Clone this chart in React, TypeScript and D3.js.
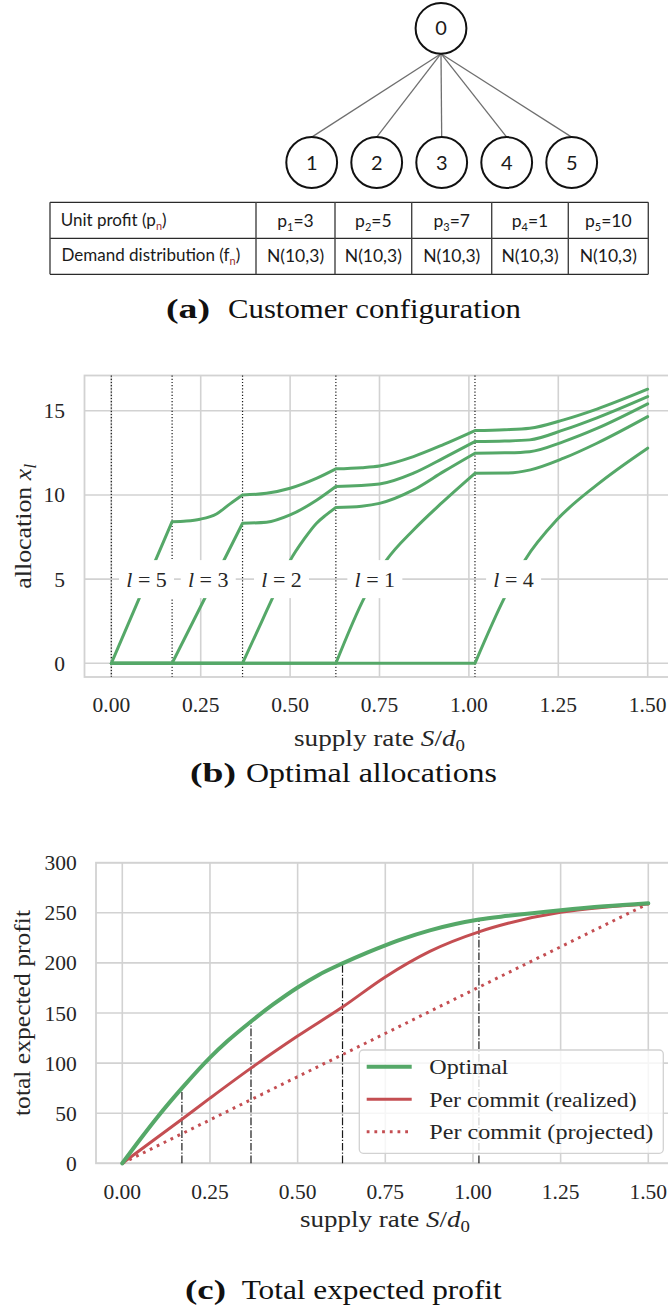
import React from 'react';
import * as d3 from 'd3';

type Pt = [number, number];

// ---------- (a) customer configuration ----------
const customerIds = [1, 2, 3, 4, 5];
const unitProfits = [3, 5, 7, 1, 10];
const demandDists = ['N(10,3)', 'N(10,3)', 'N(10,3)', 'N(10,3)', 'N(10,3)'];

// ---------- (b) optimal allocations ----------
// supply rates at which the next customer starts receiving stock
const activationS = [0, 0.17, 0.367, 0.628, 1.017];
const allocationLabels = ['5', '3', '2', '1', '4'];
const labelS = [0.0985, 0.271, 0.476, 0.737, 1.125];
const labelLevel = 5;

const alloc5: Pt[] = [
  [0, 0], [0.17, 8.41],
  [0.21, 8.45], [0.248, 8.56], [0.294, 8.87], [0.332, 9.47], [0.367, 10.0],
  [0.434, 10.1], [0.5, 10.4], [0.575, 11.0], [0.628, 11.55],
  [0.7, 11.62], [0.75, 11.72], [0.845, 12.28], [0.93, 13.0], [1.017, 13.82],
  [1.1, 13.87], [1.17, 13.96], [1.265, 14.46], [1.358, 15.1], [1.5, 16.28],
];
const alloc3: Pt[] = [
  [0, 0], [0.17, 0],
  [0.367, 8.32],
  [0.434, 8.38], [0.5, 8.81], [0.575, 9.7], [0.628, 10.5],
  [0.75, 10.65], [0.845, 11.29], [0.93, 12.2], [1.017, 13.17],
  [1.1, 13.2], [1.17, 13.27], [1.265, 13.86], [1.358, 14.58], [1.5, 15.84],
];
const alloc2: Pt[] = [
  [0, 0], [0.367, 0],
  [0.42, 2.45], [0.46, 4.3], [0.5, 6.1], [0.54, 7.4], [0.574, 8.32], [0.6, 8.8], [0.628, 9.25],
  [0.7, 9.33], [0.75, 9.5], [0.845, 10.3], [0.93, 11.4], [1.017, 12.48],
  [1.1, 12.5], [1.17, 12.57], [1.265, 13.17], [1.358, 13.95], [1.5, 15.41],
];
const alloc1: Pt[] = [
  [0, 0], [0.628, 0],
  [0.709, 3.96], [0.77, 6.14], [0.845, 7.92], [0.92, 9.45], [1.017, 11.29],
  [1.106, 11.3], [1.172, 11.49], [1.265, 12.18], [1.358, 13.07], [1.5, 14.65],
];
const alloc4: Pt[] = [
  [0, 0], [1.017, 0],
  [1.101, 3.96], [1.157, 6.14], [1.246, 8.52], [1.358, 10.6], [1.5, 12.78],
];
const allocSeries = [alloc5, alloc3, alloc2, alloc1, alloc4];

const supplyTicks = [0, 0.25, 0.5, 0.75, 1.0, 1.25, 1.5];
const allocTicks = [0, 5, 10, 15];

// ---------- (c) total expected profit ----------
const optimalProfit: Pt[] = [
  [0, 0], [0.05, 23.5], [0.1, 46], [0.17, 75], [0.25, 105.5], [0.3, 122], [0.367, 141.5],
  [0.43, 158.5], [0.5, 175.5], [0.56, 188], [0.628, 199.5], [0.7, 210.5], [0.75, 217.5],
  [0.8, 224], [0.877, 232.5], [0.95, 238.8], [1.017, 243.3], [1.1, 247],
  [1.25, 252.6], [1.375, 256.5], [1.5, 259.5],
];
const realizedProfit: Pt[] = [
  [0, 0], [0.17, 44], [0.25, 65], [0.367, 95], [0.5, 127], [0.628, 156],
  [0.75, 186], [0.877, 211.5], [1.017, 231], [1.1, 239.5], [1.25, 250.5],
  [1.375, 255.5], [1.5, 258.8],
];
const projectedProfit: Pt[] = [
  [0, 0], [0.17, 29.5], [0.367, 63.5], [0.628, 108.5], [1.017, 175.8], [1.5, 259.2],
];
const thresholdProfit = [75, 141.5, 199.5, 243.3];
const profitTicks = [0, 50, 100, 150, 200, 250, 300];
const legendNames = ['Optimal', 'Per commit (realized)', 'Per commit (projected)'];

// ---------- styling ----------
const SERIF = '"Liberation Serif", "Times New Roman", serif';
const SANS = 'Lato, "Open Sans", sans-serif';
const GREEN = '#55a868';
const RED = '#c44e52';
const GRID = '#d2d2d2';
const INK = '#262626';

const fmt2 = d3.format('.2f');

// split a polyline into pieces at the activation points so kinks stay sharp
function splitAtBreaks(pts: Pt[]): Pt[][] {
  const segs: Pt[][] = [];
  let cur: Pt[] = [pts[0]];
  for (let i = 1; i < pts.length; i++) {
    cur.push(pts[i]);
    if (i < pts.length - 1 && activationS.includes(pts[i][0])) {
      segs.push(cur);
      cur = [pts[i]];
    }
  }
  segs.push(cur);
  return segs;
}

function Tree() {
  const xChild = d3.scaleLinear().domain([1, 5]).range([311.7, 571.7]);
  const root = { x: 441, y: 28.3 };
  const childY = 162.5;
  const r = 25.4;
  return (
    <g>
      {customerIds.map((id) => (
        <line key={'e' + id} x1={root.x} y1={root.y + r} x2={xChild(id)} y2={childY - r}
          stroke="#6f6f6f" strokeWidth={1.3} />
      ))}
      <circle cx={root.x} cy={root.y} r={r} fill="white" stroke="#111" strokeWidth={2} />
      <text x={root.x} y={root.y + 7} textAnchor="middle" fontFamily={SANS} fontSize={20} fill="#1a1a1a">0</text>
      {customerIds.map((id) => (
        <g key={'n' + id}>
          <circle cx={xChild(id)} cy={childY} r={r} fill="white" stroke="#111" strokeWidth={2} />
          <text x={xChild(id)} y={childY + 7} textAnchor="middle" fontFamily={SANS} fontSize={20} fill="#1a1a1a">{id}</text>
        </g>
      ))}
    </g>
  );
}

function ConfigTable() {
  const cols = [50, 256, 335, 411.7, 491.7, 568.3, 648.3];
  const rows = [202.3, 238.3, 274.3];
  const fs = 17;
  const sub = (t: string, color = '#1a1a1a') => (
    <tspan dy={4} fontSize={11} fill={color}>{t}</tspan>
  );
  return (
    <g fontFamily={SANS} fill="#1a1a1a">
      {rows.map((y, i) => (
        <line key={'h' + i} x1={cols[0]} x2={cols[cols.length - 1]} y1={y} y2={y} stroke="#2a2a2a" strokeWidth={1.3} />
      ))}
      {cols.map((x, i) => (
        <line key={'v' + i} x1={x} x2={x} y1={rows[0]} y2={rows[2]} stroke="#444" strokeWidth={1.4} />
      ))}
      <text x={60.7} y={225.7} fontSize={fs}>
        Unit profit (p{sub('n', '#9a3030')}<tspan dy={-4}>)</tspan>
      </text>
      <text x={61.5} y={261} fontSize={fs}>
        Demand distribution (f{sub('n', '#9a3030')}<tspan dy={-4}>)</tspan>
      </text>
      {unitProfits.map((p, i) => (
        <text key={'p' + i} x={(cols[i + 1] + cols[i + 2]) / 2} y={226.5} fontSize={17.5} textAnchor="middle">
          p{sub(String(customerIds[i]))}<tspan dy={-4}>={p}</tspan>
        </text>
      ))}
      {demandDists.map((d, i) => (
        <text key={'d' + i} x={(cols[i + 1] + cols[i + 2]) / 2} y={261.5} fontSize={17.5} textAnchor="middle">{d}</text>
      ))}
    </g>
  );
}

function Caption({ tag, text, x0, x1, x2, x3, y }: { tag: string; text: string; x0: number; x1: number; x2: number; x3: number; y: number }) {
  return (
    <g fontFamily={SERIF} fontSize={27} fill="#111">
      <text x={x0} y={y} fontWeight="bold" textLength={x1 - x0} lengthAdjust="spacingAndGlyphs">{tag}</text>
      <text x={x2} y={y} textLength={x3 - x2} lengthAdjust="spacingAndGlyphs">{text}</text>
    </g>
  );
}

function AllocationChart() {
  const left = 84.5, right = 674.5, top = 375.5, bottom = 677;
  const x = d3.scaleLinear().domain([-0.075, 1.575]).range([left, right]);
  const y = d3.scaleLinear().domain([-0.814, 17.094]).range([bottom, top]);
  const line = d3.line<Pt>().x((d) => x(d[0])).y((d) => y(d[1])).curve(d3.curveMonotoneX);
  return (
    <g>
      {supplyTicks.map((t) => (
        <line key={'gx' + t} x1={x(t)} x2={x(t)} y1={top} y2={bottom} stroke={GRID} strokeWidth={1.6} />
      ))}
      {allocTicks.map((t) => (
        <line key={'gy' + t} x1={left} x2={right} y1={y(t)} y2={y(t)} stroke={GRID} strokeWidth={1.6} />
      ))}
      <rect x={left} y={top} width={right - left} height={bottom - top} fill="none" stroke={GRID} strokeWidth={1.8} />
      {activationS.map((s) => (
        <line key={'a' + s} x1={x(s)} x2={x(s)} y1={top} y2={bottom} stroke="#1a1a1a" strokeWidth={1.2} strokeDasharray="1.2 2" />
      ))}
      {allocSeries.map((pts, i) => (
        <path key={'c' + i} d={splitAtBreaks(pts).map((s) => line(s)).join('')} fill="none"
          stroke={GREEN} strokeWidth={3} strokeLinecap="round" strokeLinejoin="round" />
      ))}
      {allocationLabels.map((lab, i) => (
        <g key={'l' + lab}>
          <rect x={x(labelS[i]) - 27.5} y={y(labelLevel) - 19} width={55} height={38} fill="white" />
          <text x={x(labelS[i])} y={y(labelLevel) + 7.5} textAnchor="middle" fontFamily={SERIF} fontSize={22} fill={INK} style={{ whiteSpace: 'pre' }}>
            <tspan fontStyle="italic">l</tspan><tspan> = {lab}</tspan>
          </text>
        </g>
      ))}
      {allocTicks.map((t) => (
        <text key={'ty' + t} x={65} y={y(t) + 7.5} textAnchor="end" fontFamily={SERIF} fontSize={21.5} fill={INK}>{t}</text>
      ))}
      {supplyTicks.map((t) => (
        <text key={'tx' + t} x={x(t)} y={712} textAnchor="middle" fontFamily={SERIF} fontSize={21.5} fill={INK}>{fmt2(t)}</text>
      ))}
      <text x={379.5} y={746} textAnchor="middle" fontFamily={SERIF} fontSize={23} fill={INK} textLength={171} lengthAdjust="spacingAndGlyphs" style={{ whiteSpace: 'pre' }}>
        supply rate <tspan fontStyle="italic">S</tspan>/<tspan fontStyle="italic">d</tspan><tspan dy={5} fontSize={16}>0</tspan>
      </text>
      <text transform={`translate(30.5,${(top + bottom) / 2}) rotate(-90)`} textAnchor="middle" fontFamily={SERIF} fontSize={23} fill={INK} textLength={125} lengthAdjust="spacingAndGlyphs" style={{ whiteSpace: 'pre' }}>
        allocation <tspan fontStyle="italic">x</tspan><tspan dy={5} fontSize={16} fontStyle="italic">l</tspan>
      </text>
    </g>
  );
}

function ProfitChart() {
  const left = 96, right = 674.6, top = 862.7, bottom = 1163.3;
  const x = d3.scaleLinear().domain([-0.075, 1.575]).range([left, right]);
  const y = d3.scaleLinear().domain([0, 300]).range([bottom, top]);
  const line = d3.line<Pt>().x((d) => x(d[0])).y((d) => y(d[1])).curve(d3.curveMonotoneX);
  const lx0 = 359.3, ly0 = 1050, lx1 = 663.3, ly1 = 1153.3;
  const rowsY = [1066.7, 1099.3, 1131.7];
  const legendWidths = [79, 207.4, 224];
  const styles = [
    { stroke: GREEN, width: 4, dash: undefined as string | undefined },
    { stroke: RED, width: 3, dash: undefined as string | undefined },
    { stroke: RED, width: 3, dash: '2.8 4.9' },
  ];
  return (
    <g>
      {supplyTicks.map((t) => (
        <line key={'gx' + t} x1={x(t)} x2={x(t)} y1={top} y2={bottom} stroke={GRID} strokeWidth={1.6} />
      ))}
      {profitTicks.map((t) => (
        <line key={'gy' + t} x1={left} x2={right} y1={y(t)} y2={y(t)} stroke={GRID} strokeWidth={1.6} />
      ))}
      <rect x={left} y={top} width={right - left} height={bottom - top} fill="none" stroke={GRID} strokeWidth={1.8} />
      {activationS.slice(1).map((s, i) => (
        <line key={'a' + s} x1={x(s)} x2={x(s)} y1={y(0)} y2={y(thresholdProfit[i])} stroke="#1a1a1a" strokeWidth={1.2} strokeDasharray="7.7 1.9 1.2 1.9" />
      ))}
      <path d={line(projectedProfit) ?? ''} fill="none" stroke={RED} strokeWidth={3} strokeDasharray="2.8 4.9" />
      <path d={line(realizedProfit) ?? ''} fill="none" stroke={RED} strokeWidth={3} strokeLinecap="round" />
      <path d={line(optimalProfit) ?? ''} fill="none" stroke={GREEN} strokeWidth={4} strokeLinecap="round" />
      {profitTicks.map((t) => (
        <text key={'ty' + t} x={76.7} y={y(t) + 7.5} textAnchor="end" fontFamily={SERIF} fontSize={21.5} fill={INK}>{t}</text>
      ))}
      {supplyTicks.map((t) => (
        <text key={'tx' + t} x={x(t)} y={1198.5} textAnchor="middle" fontFamily={SERIF} fontSize={21.5} fill={INK}>{fmt2(t)}</text>
      ))}
      <text x={385} y={1227} textAnchor="middle" fontFamily={SERIF} fontSize={23} fill={INK} textLength={170} lengthAdjust="spacingAndGlyphs" style={{ whiteSpace: 'pre' }}>
        supply rate <tspan fontStyle="italic">S</tspan>/<tspan fontStyle="italic">d</tspan><tspan dy={5} fontSize={16}>0</tspan>
      </text>
      <text transform={`translate(29.5,${(top + bottom) / 2}) rotate(-90)`} textAnchor="middle" fontFamily={SERIF} fontSize={23} fill={INK} textLength={206} lengthAdjust="spacingAndGlyphs">
        total expected profit
      </text>
      <rect x={lx0} y={ly0} width={lx1 - lx0} height={ly1 - ly0} rx={4} fill="white" fillOpacity={0.8} stroke={GRID} strokeWidth={1.3} />
      {legendNames.map((n, i) => (
        <g key={n}>
          <line x1={366.7} x2={411.7} y1={rowsY[i]} y2={rowsY[i]} stroke={styles[i].stroke} strokeWidth={styles[i].width} strokeDasharray={styles[i].dash} />
          <text x={429.3} y={rowsY[i] + 7.5} fontFamily={SERIF} fontSize={21.5} fill={INK} textLength={legendWidths[i]} lengthAdjust="spacingAndGlyphs">{n}</text>
        </g>
      ))}
    </g>
  );
}

export default function App() {
  return (
    <svg width={668} height={1312} viewBox="0 0 668 1312"
      style={{ position: 'absolute', left: 0, top: 0, background: 'white', overflow: 'hidden' }}>
      <rect x={0} y={0} width={668} height={1312} fill="white" />
      <Tree />
      <ConfigTable />
      <Caption tag="(a)" text="Customer configuration" x0={166} x1={210} x2={228} x3={521} y={318} />
      <AllocationChart />
      <Caption tag="(b)" text="Optimal allocations" x0={190} x1={236} x2={246} x3={497} y={782} />
      <ProfitChart />
      <Caption tag="(c)" text="Total expected profit" x0={185} x1={226} x2={241.7} x3={501.7} y={1299} />
    </svg>
  );
}
